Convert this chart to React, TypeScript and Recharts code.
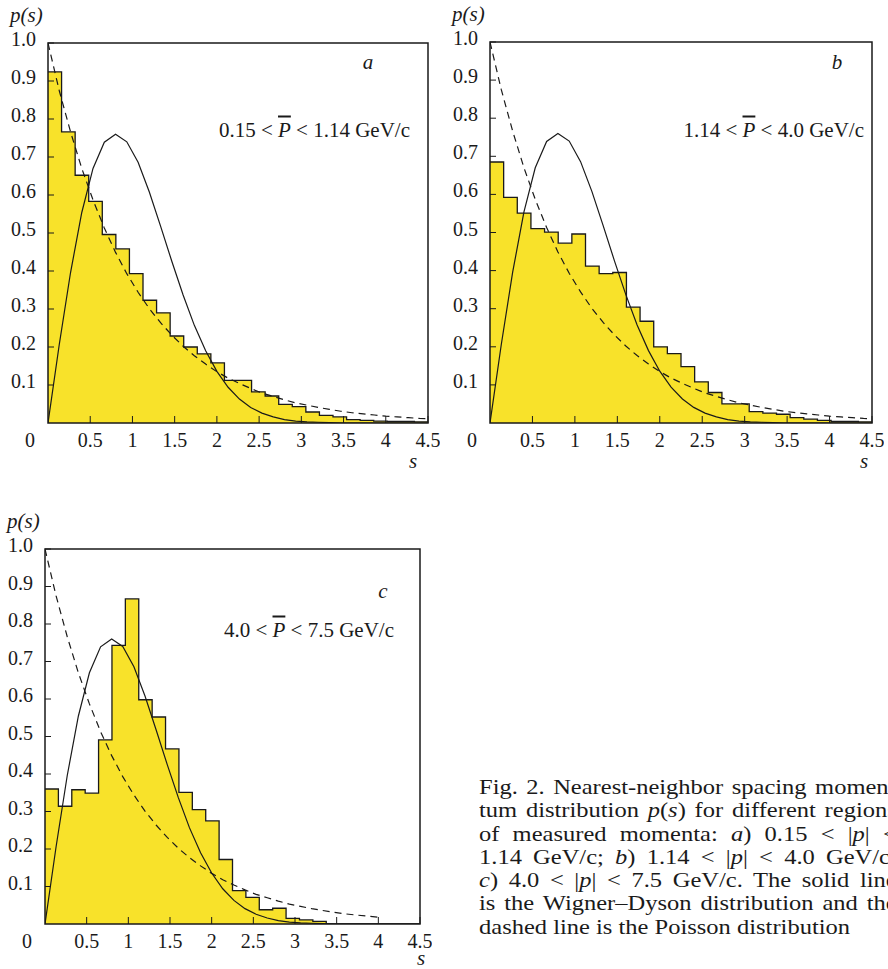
import React from 'react';
import { ComposedChart, Area, Line, XAxis, YAxis, ReferenceArea } from 'recharts';

const FONT = "'Liberation Serif', 'Times New Roman', serif";
const INK = '#1a1a1a';
const YELLOW = '#f8e22a';

// histogram: 28 equal bins over 0..4.5
const BIN = 4.5 / 28;
const histA = [0.924, 0.766, 0.652, 0.583, 0.496, 0.458, 0.393, 0.323, 0.29, 0.229, 0.2, 0.182, 0.158, 0.112, 0.112, 0.082, 0.071, 0.049, 0.043, 0.029, 0.02, 0.016, 0.009, 0.007, 0.005, 0.004, 0.004, 0.003];
const histB = [0.685, 0.592, 0.551, 0.51, 0.501, 0.472, 0.496, 0.412, 0.392, 0.395, 0.304, 0.267, 0.2, 0.182, 0.148, 0.108, 0.08, 0.05, 0.05, 0.03, 0.026, 0.023, 0.014, 0.01, 0.007, 0.004, 0.004, 0.003];
const histC = [0.36, 0.314, 0.358, 0.349, 0.491, 0.743, 0.867, 0.598, 0.552, 0.467, 0.351, 0.305, 0.275, 0.172, 0.089, 0.071, 0.038, 0.042, 0.015, 0.011, 0.007, 0, 0, 0, 0, 0, 0, 0];

// curve sample points
const sCurve = [0, 0.133, 0.267, 0.4, 0.533, 0.667, 0.8, 0.933, 1.067, 1.2, 1.333, 1.467, 1.6, 1.733, 1.867, 2.0, 2.133, 2.267, 2.4, 2.533, 2.667, 2.8, 2.933, 3.067, 3.2, 3.333, 3.467, 3.6, 3.733, 3.867, 4.0, 4.133, 4.267, 4.4, 4.5];
const wigner = [0, 0.206, 0.396, 0.554, 0.67, 0.739, 0.76, 0.74, 0.686, 0.608, 0.518, 0.425, 0.337, 0.257, 0.19, 0.136, 0.094, 0.063, 0.041, 0.026, 0.016, 0.009, 0.005, 0.003, 0.002, 0.001, 0, 0, 0, 0, 0, 0, 0, 0, 0];
const poisson = [1, 0.875, 0.766, 0.67, 0.587, 0.513, 0.449, 0.393, 0.344, 0.301, 0.264, 0.231, 0.202, 0.177, 0.155, 0.135, 0.118, 0.104, 0.091, 0.079, 0.07, 0.061, 0.053, 0.047, 0.041, 0.036, 0.031, 0.027, 0.024, 0.021, 0.018, 0.016, 0.014, 0.012, 0.011];

const xTicks = [0, 0.5, 1, 1.5, 2, 2.5, 3, 3.5, 4, 4.5];
const yTicks = [0.1, 0.2, 0.3, 0.4, 0.5, 0.6, 0.7, 0.8, 0.9, 1];

const toSteps = (h: number[]) => {
  const pts = h.map((p, i) => ({ s: i * BIN, p }));
  pts.push({ s: 4.5, p: h[h.length - 1] });
  return pts;
};
const wignerData = sCurve.map((s, i) => ({ s, p: wigner[i] }));
const poissonData = sCurve.map((s, i) => ({ s, p: poisson[i] }));

const XTick = (props: any) => {
  const { x, y, payload } = props;
  const v = payload.value;
  if (v === 0) {
    return (
      <text x={x - 18} y={y + 17} textAnchor="middle" dominantBaseline="central" fontSize={20} fontFamily={FONT} fill={INK}>0</text>
    );
  }
  return (
    <g>
      <line x1={x} x2={x} y1={y} y2={y - 7} stroke={INK} strokeWidth={1} />
      <text x={x} y={y + 17} textAnchor="middle" dominantBaseline="central" fontSize={20} fontFamily={FONT} fill={INK}>{String(v)}</text>
    </g>
  );
};

const YTick = (props: any) => {
  const { x, y, payload } = props;
  const v = payload.value;
  return (
    <g>
      <line x1={x} x2={x + 6} y1={y} y2={y} stroke={INK} strokeWidth={1} />
      <text x={x - 12} y={y - 4} textAnchor="end" dominantBaseline="central" fontSize={20} fontFamily={FONT} fill={INK}>{v === 1 ? '1.0' : String(v)}</text>
    </g>
  );
};

interface PanelProps {
  left: number;
  top: number;
  w: number;
  h: number;
  hist: number[];
  poisEnd: number;
  letter: string;
  letterDx: number;
  letterDy: number;
  note: React.ReactNode;
  noteDx: number;
  noteDy: number;
  sDx: number;
  sDy: number;
}

const ital: React.CSSProperties = { fontStyle: 'italic' };

const Panel: React.FC<PanelProps> = ({ left, top, w, h, hist, poisEnd, letter, letterDx, letterDy, note, noteDx, noteDy, sDx, sDy }) => {
  const right = left + w;
  const txt: React.CSSProperties = { position: 'absolute', fontFamily: FONT, color: INK, whiteSpace: 'nowrap', lineHeight: 1 };
  return (
    <>
      <div style={{ position: 'absolute', left: left - 48, top: top - 43 }}>
        <ComposedChart width={48 + w + 12} height={43 + h + 52} margin={{ top: 43, right: 12, left: 0, bottom: 0 }}>
          <XAxis dataKey="s" type="number" domain={[0, 4.5]} ticks={xTicks} tick={XTick} tickLine={false} axisLine={false} tickSize={0} tickMargin={0} height={52} interval={0} allowDataOverflow />
          <YAxis type="number" domain={[0, 1]} ticks={yTicks} tick={YTick} tickLine={false} axisLine={false} tickSize={0} tickMargin={0} width={48} interval={0} allowDataOverflow />
          <Area data={toSteps(hist)} dataKey="p" type="stepAfter" stroke={INK} strokeWidth={1.3} fill={YELLOW} fillOpacity={1} dot={false} activeDot={false} isAnimationActive={false} />
          <Line data={wignerData} dataKey="p" type="linear" stroke={INK} strokeWidth={1.2} dot={false} activeDot={false} isAnimationActive={false} />
          <Line data={poissonData.slice(0, poisEnd)} dataKey="p" type="linear" stroke={INK} strokeWidth={1.2} strokeDasharray="7 5" dot={false} activeDot={false} isAnimationActive={false} />
          <ReferenceArea x1={0} x2={4.5} y1={0} y2={1} fill="none" stroke={INK} strokeWidth={1.5} ifOverflow="visible" />
        </ComposedChart>
      </div>
      <div style={{ ...txt, ...ital, fontSize: 21, left: left - 38, top: top - 28, transform: 'translateY(-50%)' }}>p(s)</div>
      <div style={{ ...txt, ...ital, fontSize: 21, left: right + sDx, top: top + h + sDy, transform: 'translate(-50%,-50%)' }}>s</div>
      <div style={{ ...txt, ...ital, fontSize: 21, left: right + letterDx, top: top + letterDy, transform: 'translate(-50%,-50%)' }}>{letter}</div>
      <div style={{ ...txt, fontSize: 21, left: right + noteDx, top: top + noteDy, transform: 'translate(-100%,-50%)' }}>{note}</div>
    </>
  );
};

const Pbar = () => <span style={{ fontStyle: 'italic', textDecoration: 'overline' }}>P</span>;

const capLine: React.CSSProperties = { width: 375, whiteSpace: 'nowrap', textAlignLast: 'justify' as any };

export default function App() {
  return (
    <div style={{ position: 'absolute', left: 0, top: 0, width: 888, height: 969, overflow: 'hidden', background: '#fff' }}>
      <Panel left={48} top={43} w={380} h={380} hist={histA} poisEnd={35} letter="a" letterDx={-60} letterDy={19}
        note={<>0.15 &lt; <Pbar /> &lt; 1.14 GeV/c</>} noteDx={-18} noteDy={87} sDx={-15} sDy={38} />
      <Panel left={490} top={42} w={382} h={381} hist={histB} poisEnd={35} letter="b" letterDx={-35} letterDy={20}
        note={<>1.14 &lt; <Pbar /> &lt; 4.0 GeV/c</>} noteDx={-8} noteDy={88} sDx={-8} sDy={38} />
      <Panel left={45} top={549} w={375} h={375} hist={histC} poisEnd={31} letter="c" letterDx={-37} letterDy={42}
        note={<>4.0 &lt; <Pbar /> &lt; 7.5 GeV/c</>} noteDx={-26} noteDy={81} sDx={1} sDy={34} />
      <div style={{ position: 'absolute', left: 479, top: 775, width: 409, height: 170, overflow: 'hidden' }}>
        <div style={{ transform: 'scaleX(1.114)', transformOrigin: 'left top', width: 375, fontFamily: FONT, fontSize: 22, lineHeight: '23.3px', color: INK }}>
          <div style={capLine}>Fig. 2. Nearest-neighbor spacing momen-</div>
          <div style={capLine}>tum distribution <i>p</i>(<i>s</i>) for different regions</div>
          <div style={capLine}>of measured momenta: <i>a</i>) 0.15 &lt; |<i>p</i>| &lt;</div>
          <div style={capLine}>1.14 GeV/c; <i>b</i>) 1.14 &lt; |<i>p</i>| &lt; 4.0 GeV/c;</div>
          <div style={capLine}><i>c</i>) 4.0 &lt; |<i>p</i>| &lt; 7.5 GeV/c. The solid line</div>
          <div style={capLine}>is the Wigner–Dyson distribution and the</div>
          <div style={{ whiteSpace: 'nowrap' }}>dashed line is the Poisson distribution</div>
        </div>
      </div>
    </div>
  );
}
